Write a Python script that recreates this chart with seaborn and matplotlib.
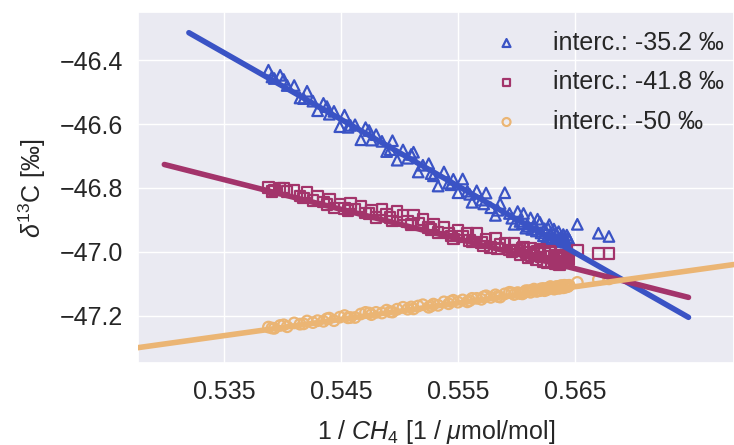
import numpy as np
import pandas as pd
import matplotlib
matplotlib.use("Agg")
import matplotlib.pyplot as plt
import seaborn as sns

# ---------------- data ----------------
inv_ch4 = [
    0.5388, 0.5393, 0.5398, 0.5404, 0.5410, 0.5415, 0.5421, 0.5426, 0.5430, 0.5435,
    0.5440, 0.5444, 0.5449, 0.5453, 0.5458, 0.5462, 0.5467, 0.5471, 0.5476, 0.5480,
    0.5485, 0.5489, 0.5494, 0.5498, 0.5503, 0.5507, 0.5512, 0.5516, 0.5520, 0.5525,
    0.5529, 0.5533, 0.5538, 0.5542, 0.5546, 0.5550, 0.5554, 0.5558, 0.5562, 0.5566,
    0.5570, 0.5574, 0.5578, 0.5582, 0.5586, 0.5590, 0.5594, 0.5598, 0.5601, 0.5605,
    0.5608, 0.5612, 0.5615, 0.5618, 0.5621, 0.5624, 0.5627, 0.5629, 0.5632, 0.5634,
    0.5636, 0.5638, 0.5640, 0.5641, 0.5643, 0.5644, 0.5652, 0.5670, 0.5679,
    0.5391, 0.5401, 0.5418, 0.5438, 0.5456, 0.5474, 0.5492, 0.5510, 0.5527, 0.5544,
    0.5560, 0.5572, 0.5584, 0.5596, 0.5603, 0.5610, 0.5617, 0.5623, 0.5626, 0.5630,
    0.5633, 0.5635, 0.5637, 0.5639, 0.5642, 0.5645, 0.5628, 0.5620, 0.5613, 0.5606,
]

d13c_352 = [
    -46.431, -46.457, -46.447, -46.479, -46.479, -46.518, -46.497, -46.528, -46.558, -46.535,
    -46.569, -46.560, -46.608, -46.572, -46.604, -46.602, -46.649, -46.611, -46.650, -46.633,
    -46.654, -46.686, -46.652, -46.713, -46.681, -46.707, -46.688, -46.750, -46.729, -46.724,
    -46.762, -46.794, -46.750, -46.785, -46.773, -46.815, -46.772, -46.810, -46.845, -46.809,
    -46.838, -46.816, -46.862, -46.886, -46.849, -46.815, -46.880, -46.914, -46.874, -46.912,
    -46.926, -46.894, -46.916, -46.898, -46.941, -46.928, -46.926, -46.945, -46.929, -46.944,
    -46.937, -46.953, -46.946, -46.955, -46.948, -46.956, -46.914, -46.942, -46.952,
    -46.452, -46.460, -46.520, -46.545, -46.610, -46.620, -46.680, -46.695, -46.755, -46.790,
    -46.820, -46.850, -46.870, -46.895, -46.905, -46.920, -46.935, -46.950, -46.955, -46.960,
    -46.962, -46.965, -46.968, -46.965, -46.970, -46.962, -46.915, -46.908, -46.930, -46.880,
]

d13c_418 = [
    -46.798, -46.807, -46.800, -46.811, -46.808, -46.825, -46.814, -46.840, -46.827, -46.844,
    -46.834, -46.863, -46.850, -46.865, -46.848, -46.866, -46.859, -46.878, -46.869, -46.893,
    -46.868, -46.884, -46.903, -46.874, -46.885, -46.906, -46.885, -46.910, -46.898, -46.924,
    -46.915, -46.940, -46.923, -46.941, -46.960, -46.932, -46.953, -46.943, -46.970, -46.943,
    -46.971, -46.960, -46.986, -46.959, -46.978, -46.972, -46.994, -46.975, -46.994, -46.988,
    -47.002, -46.988, -47.005, -46.997, -47.016, -47.004, -47.015, -47.002, -47.015, -47.011,
    -47.018, -47.010, -47.022, -47.014, -47.020, -47.018, -46.995, -47.005, -47.005,
    -46.812, -46.800, -46.832, -46.852, -46.870, -46.880, -46.893, -46.915, -46.930, -46.950,
    -46.965, -46.982, -46.990, -47.000, -47.010, -47.020, -47.025, -47.030, -47.035, -47.032,
    -47.038, -47.036, -47.040, -47.034, -47.030, -47.026, -47.000, -46.992, -47.012, -46.985,
]

d13c_500 = [
    -47.236, -47.240, -47.231, -47.235, -47.223, -47.227, -47.217, -47.222, -47.216, -47.218,
    -47.208, -47.216, -47.205, -47.200, -47.206, -47.206, -47.195, -47.190, -47.197, -47.190,
    -47.192, -47.183, -47.189, -47.180, -47.174, -47.180, -47.179, -47.170, -47.166, -47.174,
    -47.164, -47.168, -47.157, -47.163, -47.152, -47.158, -47.151, -47.157, -47.146, -47.146,
    -47.149, -47.138, -47.143, -47.135, -47.142, -47.132, -47.127, -47.134, -47.128, -47.132,
    -47.122, -47.127, -47.117, -47.123, -47.116, -47.122, -47.114, -47.109, -47.117, -47.109,
    -47.114, -47.106, -47.113, -47.105, -47.106, -47.109, -47.096, -47.087, -47.085,
    -47.239, -47.229, -47.226, -47.210, -47.207, -47.192, -47.188, -47.173, -47.170, -47.156,
    -47.153, -47.141, -47.140, -47.129, -47.131, -47.122, -47.124, -47.115, -47.119, -47.112,
    -47.116, -47.110, -47.114, -47.107, -47.111, -47.105, -47.113, -47.122, -47.121, -47.129,
]

series_labels = ["interc.: -35.2 \u2030", "interc.: -41.8 \u2030", "interc.: -50 \u2030"]
intercepts = [-35.2, -41.8, -50.0]
slopes = [-20.89, -9.297, 5.116]
fit_x_start = [0.5320, 0.5299, None]
fit_x_end = [0.5747, 0.5747, None]

# ---------------- style ----------------
sns.set_theme(style="darkgrid")
plt.rcParams["font.family"] = ["Liberation Sans", "DejaVu Sans"]
plt.rcParams["mathtext.fontset"] = "custom"
plt.rcParams["mathtext.rm"] = "Liberation Sans"
plt.rcParams["mathtext.it"] = "Liberation Sans:italic"

colors = ["#3a53c5", "#a3346b", "#ebb574"]
markers = ["^", "s", "o"]

fig = plt.figure(figsize=(7.34, 4.45), dpi=100)
ax = fig.add_axes([0.188, 0.184, 0.812, 0.789])

xlim = (0.52765, 0.57859)
ylim = (-47.349, -46.2486)

ys = [d13c_352, d13c_418, d13c_500]
for y, c, m, lab in zip(ys, colors, markers, series_labels):
    df = pd.DataFrame({"x": inv_ch4, "y": y})
    sns.scatterplot(data=df, x="x", y="y", ax=ax, marker=m, s=58,
                    facecolor="none", edgecolor=c, linewidth=1.6,
                    label=lab, zorder=3)

for a, b, x0, x1, c in zip(intercepts, slopes, fit_x_start, fit_x_end, colors):
    if x0 is None:
        x0, x1 = xlim
    xs = np.array([x0, x1])
    sns.lineplot(x=xs, y=a + b * xs, ax=ax, color=c, linewidth=4,
                 legend=False, zorder=4)

ax.set_xlim(*xlim)
ax.set_ylim(*ylim)
ax.set_xticks([0.535, 0.545, 0.555, 0.565])
ax.set_xticklabels(["0.535", "0.545", "0.555", "0.565"], fontsize=18)
ax.set_yticks([-46.4, -46.6, -46.8, -47.0, -47.2])
ax.set_yticklabels(["\u221246.4", "\u221246.6", "\u221246.8", "\u221247.0", "\u221247.2"], fontsize=18)
ax.tick_params(axis="x", pad=6)
ax.tick_params(axis="y", pad=5)

ax.set_xlabel("1 / $CH_4$ [1 / $\\mu$mol/mol]", fontsize=18, labelpad=10)
ax.set_ylabel("$\\delta^{13}$C [\u2030]", fontsize=18, labelpad=8)

leg = ax.legend(loc="upper right", bbox_to_anchor=(1.012, 0.997), frameon=False,
                fontsize=18, handletextpad=0.85, labelspacing=0.62,
                markerscale=0.75, borderaxespad=0.3)

fig.savefig("out.png", dpi=100)
